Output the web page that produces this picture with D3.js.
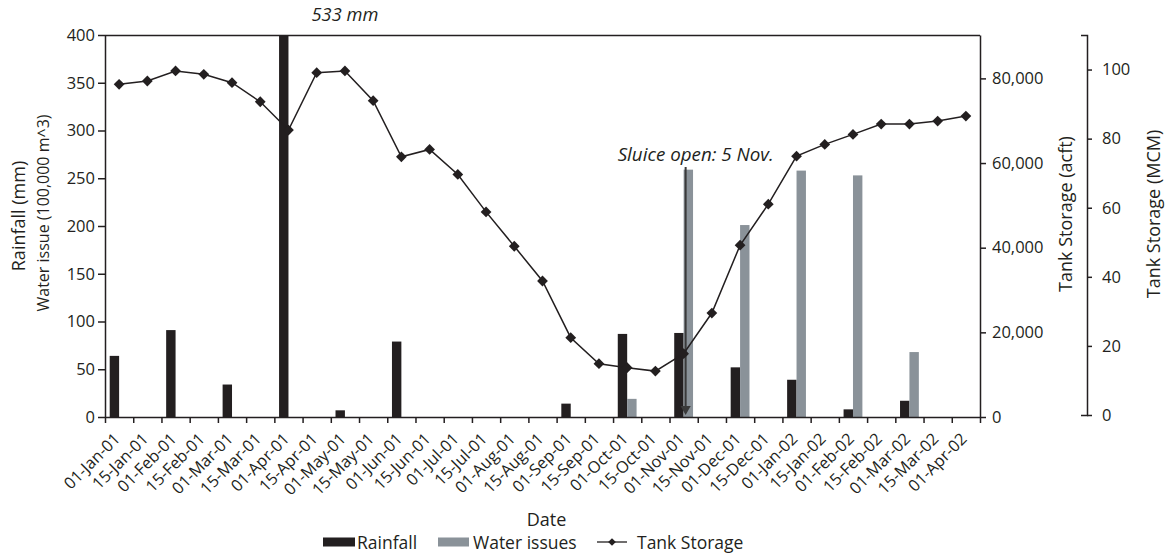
<!DOCTYPE html>
<html>
<head>
    <meta charset="utf-8">
    <title>Rainfall, water issues and tank storage</title>
    <script src="https://d3js.org/d3.v7.min.js"></script>
    <style>
        body { margin: 0; padding: 0; background: #fff; }
        text { font-family: "Open Sans", sans-serif; fill: #231f20; }
    </style>
</head>
<body>
    <svg id="svg" width="1165" height="554"></svg>

    <script>
        // Categories (half-month dates), as printed on the x axis.
        const dates = [
            "01-Jan-01", "15-Jan-01", "01-Feb-01", "15-Feb-01", "01-Mar-01", "15-Mar-01",
            "01-Apr-01", "15-Apr-01", "01-May-01", "15-May-01", "01-Jun-01", "15-Jun-01",
            "01-Jul-01", "15-Jul-01", "01-Aug-01", "15-Aug-01", "01-Sep-01", "15-Sep-01",
            "01-Oct-01", "15-Oct-01", "01-Nov-01", "15-Nov-01", "01-Dec-01", "15-Dec-01",
            "01-Jan-02", "15-Jan-02", "01-Feb-02", "15-Feb-02", "01-Mar-02", "15-Mar-02",
            "01-Apr-02"
        ];

        // Rainfall (mm), one value per category (null = no bar).
        const rainfall = [
            64, null, 91, null, 34, null, 533, null, 7, null, 79, null,
            null, null, null, null, 14, null, 87, null, 88, null, 52, null,
            39, null, 8, null, 17, null, null
        ];

        // Water issues (100,000 m^3).
        const waterIssues = [
            null, null, null, null, null, null, null, null, null, null, null, null,
            null, null, null, null, null, null, 19, null, 259, null, 201, null,
            258, null, 253, null, 68, null, null
        ];

        // Tank storage (acft).
        const tankStorage = [
            78600, 79380, 81750, 80970, 78980, 74480, 67790, 81340, 81750, 74720,
            61470, 63220, 57300, 48460, 40340, 32130, 18740, 12590, 11640, 10840,
            14950, 24560, 40580, 50280, 61630, 64400, 66770, 69210, 69210, 69920,
            71100
        ];

        const leftTicks = [0, 50, 100, 150, 200, 250, 300, 350, 400];
        const acftTicks = [0, 20000, 40000, 60000, 80000];
        const mcmTicks = [0, 20, 40, 60, 80, 100];

        const svg = d3.select("svg");
        const margin = { top: 35, right: 185, bottom: 137, left: 105 };
        const width = +svg.attr("width") - margin.left - margin.right;
        const height = +svg.attr("height") - margin.top - margin.bottom;
        const ink = "#231f20";
        const grey = "#8a9299";

        // Scales.
        const x = d3.scaleBand().domain(dates).range([0, width]);
        const bw = x.bandwidth();
        const xs = d3.scaleBand().domain(["rain", "water"]).range([0, bw]).paddingOuter(0.5);
        const xEdge = d3.scaleLinear().domain([0, dates.length]).range([0, width]);
        const y = d3.scaleLinear().domain([0, 400]).range([height, 0]);
        const yAcft = d3.scaleLinear().domain([0, 90250]).range([height, 0]);
        const yMcm = d3.scaleLinear().domain([0, 110]).range([height - 2, 0]);

        const g = svg.append("g")
            .attr("transform", `translate(${margin.left}, ${margin.top})`);

        g.append("clipPath").attr("id", "plot-clip")
            .append("rect").attr("width", width).attr("height", height);

        // Bars.
        const bars = g.append("g").attr("clip-path", "url(#plot-clip)");
        bars.selectAll(".rain")
            .data(dates.map((d, i) => ({ d, v: rainfall[i] })).filter(e => e.v != null))
            .join("rect")
            .attr("class", "rain")
            .attr("x", e => x(e.d) + xs("rain"))
            .attr("width", xs.bandwidth())
            .attr("y", e => y(e.v))
            .attr("height", e => height - y(e.v))
            .attr("fill", ink);

        bars.selectAll(".water")
            .data(dates.map((d, i) => ({ d, v: waterIssues[i] })).filter(e => e.v != null))
            .join("rect")
            .attr("class", "water")
            .attr("x", e => x(e.d) + xs("water"))
            .attr("width", xs.bandwidth())
            .attr("y", e => y(e.v))
            .attr("height", e => height - y(e.v))
            .attr("fill", grey);

        // Sluice opening annotation.
        const sluiceX = x("01-Nov-01") + bw / 2 + 2;
        g.append("line")
            .attr("x1", sluiceX).attr("x2", sluiceX)
            .attr("y1", y(400) + 132).attr("y2", y(0) - 10)
            .attr("stroke", "#3a3a3a").attr("stroke-width", 2);
        g.append("path")
            .attr("d", d3.symbol(d3.symbolTriangle, 45)())
            .attr("transform", `translate(${sluiceX}, ${y(0) - 8}) rotate(180)`)
            .attr("fill", "#3a3a3a");
        g.append("text")
            .attr("x", sluiceX - 68).attr("y", y(400) + 126)
            .attr("font-style", "italic").attr("font-size", 18.8)
            .text("Sluice open: 5 Nov.");

        // Clipped bar label.
        g.append("text")
            .attr("x", x("01-Apr-01") + bw * 2.5).attr("y", -14)
            .attr("text-anchor", "middle")
            .attr("font-style", "italic").attr("font-size", 18.3)
            .text("533 mm");

        // Tank storage line.
        const line = d3.line()
            .x((v, i) => x(dates[i]) + bw / 2)
            .y(v => yAcft(v));
        g.append("path")
            .datum(tankStorage)
            .attr("fill", "none")
            .attr("stroke", ink)
            .attr("stroke-width", 1.5)
            .attr("d", line);
        g.selectAll(".pt")
            .data(tankStorage)
            .join("path")
            .attr("class", "pt")
            .attr("d", d3.symbol(d3.symbolSquare, 58)())
            .attr("transform", (v, i) => `translate(${x(dates[i]) + bw / 2}, ${yAcft(v)}) rotate(45)`)
            .attr("fill", ink);

        // Frame top.
        g.append("line")
            .attr("x1", 0).attr("x2", width).attr("y1", 0.5).attr("y2", 0.5)
            .attr("stroke", ink).attr("stroke-width", 1.5);

        function styleAxis(sel, size) {
            sel.selectAll("path, line").attr("stroke", ink).attr("stroke-width", 1.5);
            sel.selectAll("text").attr("fill", ink).attr("font-size", size)
                .attr("font-family", "'Open Sans', sans-serif");
        }

        // Left axis.
        g.append("g")
            .call(d3.axisLeft(y).tickValues(leftTicks).tickSizeInner(7).tickSizeOuter(0).tickPadding(3))
            .call(s => styleAxis(s, 16.5));

        // Right axis (acft).
        g.append("g")
            .attr("transform", `translate(${width}, 0)`)
            .call(d3.axisRight(yAcft).tickValues(acftTicks).tickFormat(d3.format(","))
                .tickSizeInner(6).tickSizeOuter(0).tickPadding(6))
            .call(s => styleAxis(s, 16.5));

        // Second right axis (MCM).
        g.append("g")
            .attr("transform", `translate(${width + 107}, 0)`)
            .call(d3.axisRight(yMcm).tickValues(mcmTicks)
                .tickSizeInner(5).tickSizeOuter(-6).tickPadding(10))
            .call(s => styleAxis(s, 16.5));

        // X axis: tick marks on category edges, labels on category centres.
        g.append("g")
            .attr("transform", `translate(0, ${height})`)
            .call(d3.axisBottom(xEdge).tickValues(d3.range(dates.length + 1))
                .tickFormat("").tickSizeInner(6).tickSizeOuter(0))
            .call(s => styleAxis(s, 16));
        g.append("g")
            .attr("transform", `translate(0, ${height})`)
            .call(d3.axisBottom(x).tickSize(0))
            .call(s => styleAxis(s, 16.3))
            .call(s => s.select(".domain").remove())
            .selectAll("text")
                .attr("text-anchor", "end")
                .attr("dy", "0")
                .attr("y", 0)
                .attr("transform", "translate(2, 23) rotate(-45)");

        // Axis titles.
        svg.append("text")
            .attr("transform", "translate(25, 216) rotate(-90)")
            .attr("text-anchor", "middle").attr("font-size", 18)
            .text("Rainfall (mm)");
        svg.append("text")
            .attr("transform", "translate(49, 213) rotate(-90)")
            .attr("text-anchor", "middle").attr("font-size", 16)
            .text("Water issue (100,000 m^3)");
        svg.append("text")
            .attr("transform", "translate(1072, 214) rotate(-90)")
            .attr("text-anchor", "middle").attr("font-size", 18)
            .text("Tank Storage (acft)");
        svg.append("text")
            .attr("transform", "translate(1160, 214) rotate(-90)")
            .attr("text-anchor", "middle").attr("font-size", 18)
            .text("Tank Storage (MCM)");
        svg.append("text")
            .attr("x", margin.left + width / 2 + 4).attr("y", 526)
            .attr("text-anchor", "middle").attr("font-size", 18)
            .text("Date");

        // Legend.
        const legend = svg.append("g").attr("transform", "translate(323, 542)");
        legend.append("rect").attr("x", 0).attr("y", -4.5).attr("width", 32).attr("height", 9).attr("fill", ink);
        legend.append("text").attr("x", 34).attr("y", 7).attr("font-size", 17.5).text("Rainfall");
        legend.append("rect").attr("x", 115).attr("y", -4.5).attr("width", 31).attr("height", 9).attr("fill", grey);
        legend.append("text").attr("x", 150).attr("y", 7).attr("font-size", 17.5).text("Water issues");
        legend.append("line").attr("x1", 274).attr("x2", 304).attr("y1", 0).attr("y2", 0)
            .attr("stroke", ink).attr("stroke-width", 1.3);
        legend.append("path").attr("d", d3.symbol(d3.symbolSquare, 30)())
            .attr("transform", "translate(289, 0) rotate(45)").attr("fill", ink);
        legend.append("text").attr("x", 314).attr("y", 7).attr("font-size", 17.5).text("Tank Storage");
    </script>
</body>
</html>
